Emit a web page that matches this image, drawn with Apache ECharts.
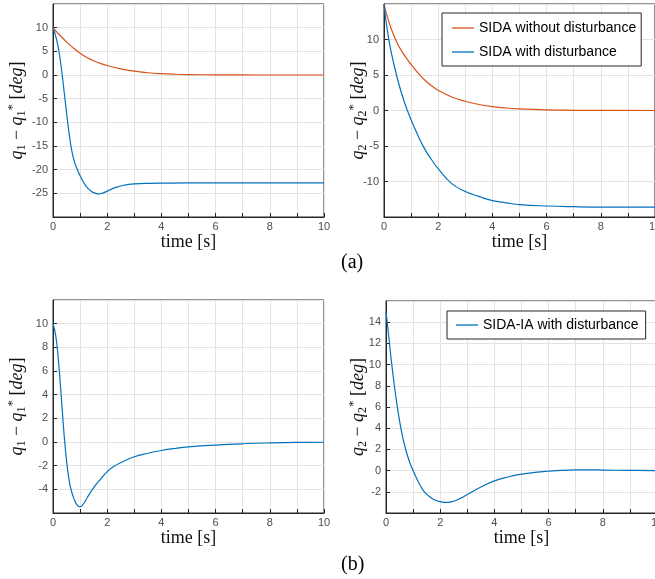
<!DOCTYPE html>
<html>
<head>
<meta charset="utf-8">
<script src="https://cdn.jsdelivr.net/npm/echarts@6/dist/echarts.min.js"></script>
<style>
  html, body { margin: 0; padding: 0; background: #fff; }
  #chart { width: 655px; height: 579px; }
</style>
</head>
<body>
<div id="chart"></div>
<script>
// (a) q1 error
const tA1Dist = [0, 0.1, 0.2, 0.3, 0.4, 0.5, 0.6, 0.7, 0.8, 0.9, 1.0, 1.1, 1.2, 1.3, 1.4, 1.5, 1.6, 1.7, 1.8, 1.9, 2.0, 2.2, 2.4, 2.6, 2.8, 3.0, 3.5, 4, 5, 6, 7, 8, 9, 10];
const a1Dist = [10, 8.2, 5.6, 1.8, -3.0, -8.0, -12.6, -16.2, -18.5, -20.0, -21.3, -22.4, -23.3, -24.0, -24.5, -24.85, -25.05, -25.1, -25.0, -24.8, -24.55, -24.0, -23.6, -23.3, -23.1, -23.0, -22.9, -22.85, -22.8, -22.8, -22.8, -22.8, -22.8, -22.8];
const tA1NoDist = [0, 0.25, 0.5, 0.75, 1, 1.25, 1.5, 1.75, 2, 2.5, 3, 3.5, 4, 4.5, 5, 6, 7, 8, 10];
const a1NoDist = [10, 8.4, 7.0, 5.7, 4.6, 3.7, 3.0, 2.45, 2.0, 1.3, 0.8, 0.48, 0.28, 0.16, 0.09, 0.03, 0.01, 0, 0];

// (a) q2 error
const tA2 = [0, 0.1, 0.25, 0.5, 0.75, 1, 1.25, 1.5, 1.75, 2, 2.5, 3, 3.5, 4, 4.5, 5, 6, 7, 8, 10];
const a2NoDist = [15, 13.5, 11.7, 9.4, 7.8, 6.5, 5.3, 4.3, 3.5, 2.85, 1.9, 1.3, 0.85, 0.55, 0.35, 0.22, 0.08, 0.03, 0.01, 0];
const a2Dist = [15, 11.9, 8.5, 4.4, 1.2, -1.3, -3.5, -5.4, -6.9, -8.2, -10.3, -11.4, -12.1, -12.7, -13.0, -13.25, -13.45, -13.55, -13.6, -13.6];

// (b) SIDA-IA
const tB1 = [0, 0.1, 0.2, 0.3, 0.4, 0.5, 0.6, 0.7, 0.8, 0.9, 1.0, 1.1, 1.2, 1.3, 1.4, 1.5, 1.75, 2, 2.25, 2.5, 3, 3.5, 4, 4.5, 5, 6, 7, 8, 9, 10];
const b1Ia = [10, 9.0, 6.9, 4.0, 0.9, -1.6, -3.3, -4.3, -4.95, -5.35, -5.47, -5.3, -4.95, -4.55, -4.2, -3.85, -3.15, -2.5, -2.05, -1.75, -1.25, -0.95, -0.72, -0.55, -0.42, -0.26, -0.15, -0.08, -0.04, -0.02];
const tB2 = [0, 0.1, 0.2, 0.3, 0.4, 0.5, 0.6, 0.7, 0.8, 0.9, 1.0, 1.2, 1.4, 1.6, 1.8, 2.0, 2.2, 2.4, 2.6, 2.8, 3.0, 3.5, 4.0, 4.5, 5.0, 5.5, 6, 6.5, 7, 7.5, 8, 9, 10];
const b2Ia = [15, 12.7, 10.3, 8.2, 6.3, 4.7, 3.35, 2.25, 1.35, 0.6, 0.0, -1.1, -1.95, -2.45, -2.78, -2.93, -3.0, -2.95, -2.8, -2.55, -2.25, -1.55, -0.97, -0.6, -0.34, -0.17, -0.06, 0.02, 0.06, 0.07, 0.05, 0.02, 0];

// axis ranges and tick steps: [min, max, step]
const yRanges = [[-30, 15, 5], [-15, 15, 5], [-6, 12, 2], [-4, 16, 2]];
const yNameGaps = [25, 15, 25, 17];
const xTicks = [0, 10, 1];

const RED = '#D95319';
const BLUE = '#0072BD';
const AX = '#262626';

const pairs = (t, v) => t.map((x, i) => [x, v[i]]);

function yName(k) {
  return '{i|q}{s|' + k + '}{n| − }{i|q}{s|' + k + '}{p|*}{n| [}{i|deg}{n|]}';
}

const nameRich = {
  i: { fontFamily: 'Liberation Serif', fontStyle: 'italic', fontSize: 18, lineHeight: 22, color: '#111' },
  n: { fontFamily: 'Liberation Serif', fontSize: 18, lineHeight: 22, color: '#111' },
  s: { fontFamily: 'Liberation Serif', fontSize: 12, lineHeight: 12, verticalAlign: 'bottom', color: '#111' },
  p: { fontFamily: 'Liberation Serif', fontSize: 13, lineHeight: 13, verticalAlign: 'top', color: '#111' }
};

const grids = [
  { left: 53, top: 4, width: 271, height: 213 },
  { left: 384, top: 4, width: 271, height: 213 },
  { left: 53, top: 300, width: 271, height: 213 },
  { left: 386, top: 301, width: 271, height: 212 }
].map(g => Object.assign(g, { show: true, borderColor: AX, borderWidth: 1, containLabel: false, outerBoundsMode: 'none' }));

const xAxes = grids.map((g, i) => ({
  type: 'value', gridIndex: i, min: xTicks[0], max: xTicks[1], interval: xTicks[2],
  name: 'time [s]', nameLocation: 'middle', nameGap: 16,
  nameTextStyle: { fontFamily: 'Liberation Serif', fontSize: 18, color: '#111' },
  axisLine: { onZero: false, lineStyle: { color: AX } },
  axisTick: { inside: true, length: 4, lineStyle: { color: AX } },
  axisLabel: { formatter: v => (v % 2 === 0 ? v : ''), color: '#4d4d4d', fontSize: 11, fontFamily: 'Liberation Sans', margin: 4 },
  splitLine: { show: true, lineStyle: { color: '#e3e3e3' } }
}));

const yAxes = yRanges.map((r, i) => ({
  type: 'value', gridIndex: i, min: r[0], max: r[1], interval: r[2],
  name: yName(i % 2 === 0 ? '1' : '2'), nameLocation: 'middle', nameGap: yNameGaps[i],
  nameMoveOverlap: false,
  nameTextStyle: { rich: nameRich },
  axisLine: { show: true, onZero: false, lineStyle: { color: AX } },
  axisTick: { show: true, inside: true, length: 4, lineStyle: { color: AX } },
  axisLabel: { showMinLabel: false, showMaxLabel: false, color: '#4d4d4d', fontSize: 11, fontFamily: 'Liberation Sans', margin: 5 },
  splitLine: { show: true, lineStyle: { color: '#e3e3e3' } }
}));

function line(name, t, v, idx, color) {
  return {
    name: name, type: 'line', xAxisIndex: idx, yAxisIndex: idx,
    data: pairs(t, v), symbol: 'none', smooth: 0.45,
    lineStyle: { color: color, width: 1.2 }, itemStyle: { color: color },
    silent: true, animation: false
  };
}

const legendBase = {
  orient: 'vertical', icon: 'rect', itemWidth: 22, itemHeight: 1.3, itemGap: 10,
  borderColor: AX, borderWidth: 1, backgroundColor: '#fff',
  textStyle: { fontFamily: 'Liberation Sans', fontSize: 14, color: '#000' }
};

const option = {
  backgroundColor: '#fff',
  animation: false,
  grid: grids,
  xAxis: xAxes,
  yAxis: yAxes,
  legend: [
    Object.assign({}, legendBase, { left: 442, top: 13, padding: [8, 5, 7, 10], data: ['SIDA without disturbance', 'SIDA with disturbance'] }),
    Object.assign({}, legendBase, { left: 447, top: 311, padding: [7, 7, 7, 9], data: ['SIDA-IA with disturbance'] })
  ],
  series: [
    line('SIDA without disturbance', tA1NoDist, a1NoDist, 0, RED),
    line('SIDA with disturbance', tA1Dist, a1Dist, 0, BLUE),
    line('SIDA without disturbance', tA2, a2NoDist, 1, RED),
    line('SIDA with disturbance', tA2, a2Dist, 1, BLUE),
    line('SIDA-IA q1', tB1, b1Ia, 2, BLUE),
    line('SIDA-IA with disturbance', tB2, b2Ia, 3, BLUE)
  ],
  graphic: [
    { type: 'text', left: 341, top: 253, style: { text: '(a)', font: '20px "Liberation Serif"', fill: '#000' } },
    { type: 'text', left: 341, top: 555, style: { text: '(b)', font: '20px "Liberation Serif"', fill: '#000' } }
  ]
};

const chart = echarts.init(document.getElementById('chart'));
chart.setOption(option);
</script>
</body>
</html>
